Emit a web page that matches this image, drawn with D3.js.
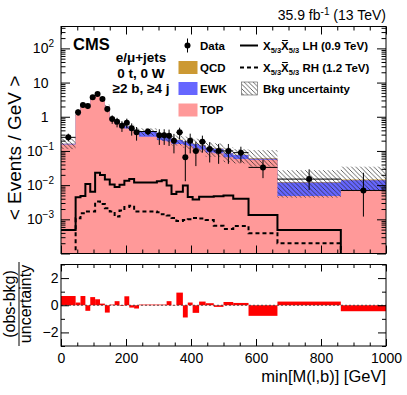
<!DOCTYPE html>
<html>
<head>
<meta charset="utf-8">
<script src="https://cdn.jsdelivr.net/npm/d3@7"></script>
<style>
body{margin:0;background:#fff;}
text{font-family:"Liberation Sans",Arial,Helvetica,sans-serif;}
</style>
</head>
<body>
<script>
// bin edges of min[M(l,b)] in GeV
const edges=[0,45,60,75,90,105,120,135,150,165,180,195,210,225,240,295,310,325,340,355,375,390,405,425,445,470,500,530,577,666,861,1000];
// observed data, events/GeV, with error bar ends
const dataVal=[0.25,1.35,2.2,2.05,3.7,4.6,3.3,1.68,0.86,0.71,0.55,0.67,0.46,0.35,0.37,0.29,0.29,0.28,0.2,0.35,0.065,0.2,0.1,0.186,0.114,0.1,0.1,0.089,0.033,0.015,0.007];
const dataLo=[0.19,1.05,1.82,1.68,3.2,4.05,2.83,1.35,0.62,0.49,0.36,0.46,0.28,0.2,0.29,0.15,0.15,0.14,0.085,0.22,0.013,0.085,0.036,0.09,0.046,0.042,0.042,0.045,0.016,0.0072,0.0012];
const dataHi=[0.32,1.65,2.58,2.42,4.2,5.15,3.77,2.0,1.1,0.93,0.74,0.88,0.64,0.5,0.45,0.43,0.43,0.42,0.315,0.48,0.2,0.32,0.186,0.28,0.18,0.16,0.16,0.133,0.054,0.029,0.023];
// backgrounds
const topBkg=[0.155,1.15,2.05,2.2,3.4,4.2,3.1,1.95,0.8,0.62,0.48,0.45,0.39,0.31,0.26,0.21,0.2,0.19,0.16,0.16,0.15,0.14,0.12,0.11,0.09,0.085,0.065,0.058,0.055,0.0048,0.0072];
const ewkBkg=[0.006,0.02,0.04,0.05,0.07,0.09,0.08,0.06,0.06,0.07,0.08,0.08,0.08,0.08,0.1,0.07,0.07,0.06,0.05,0.05,0.04,0.04,0.04,0.035,0.03,0.03,0.02,0.018,0.004,0.0072,0.0068];
const qcdBkg=[0.002,0.005,0.01,0.01,0.01,0.02,0.02,0.02,0.01,0.01,0.01,0.01,0.01,0.01,0.01,0.005,0.005,0.005,0.004,0.004,0.003,0.003,0.003,0.003,0.002,0.002,0.002,0.002,0.002,0.0003,0.0007];
const uncUp=[0.07,0.1,0.17,0.18,0.3,0.38,0.32,0.24,0.13,0.12,0.11,0.1,0.1,0.09,0.09,0.08,0.08,0.08,0.07,0.07,0.07,0.07,0.065,0.06,0.055,0.05,0.04,0.035,0.045,0.015,0.02];
const uncDn=[0.05,0.1,0.17,0.18,0.3,0.38,0.32,0.24,0.13,0.12,0.11,0.1,0.1,0.09,0.09,0.08,0.08,0.08,0.07,0.07,0.07,0.07,0.065,0.06,0.055,0.05,0.04,0.035,0.026,0.008,0.008];
// signals
const sigLH=[0.00049,0.0044,0.0048,0.0108,0.0064,0.023,0.0197,0.0145,0.0105,0.0088,0.0103,0.0135,0.015,0.012,0.012,0.013,0.014,0.0098,0.0055,0.0064,0.0098,0.0045,0.0038,0.0046,0.0046,0.0047,0.005,0.004,0.00134,0.00049,0];
const sigRH=[0,0.00107,0.0015,0.0017,0.0017,0.0033,0.0028,0.0021,0.0017,0.0012,0.0018,0.0023,0.0025,0.0017,0.0017,0.0016,0.0014,0.0013,0.0011,0.0009,0.00095,0.001,0.0011,0.00105,0.00095,0.00065,0.00052,0.00064,0.00039,0.0002,0];
// (obs-bkg)/uncertainty
const pull=[0.68,0.2,0.68,-0.41,0.6,0.44,0.12,-0.54,0.05,0.3,-0.05,0.66,-0.17,-0.24,0.05,0.05,0.05,0.3,0.02,0.93,-0.9,0.2,-0.56,0.27,0.15,-0.12,0.24,0.17,-0.78,0.27,-0.44];

const W=407,H=395;
const X0=61,X1=386,YT=26.5,YB=253.5,PT=264.5,PB=346;
const cTop="#ff9999",cEwk="#6666ff",cQcd="#cc9933";

const svg=d3.select("body").append("svg").attr("width",W).attr("height",H);
const defs=svg.append("defs");
const pat=defs.append("pattern").attr("id","hatch").attr("patternUnits","userSpaceOnUse")
  .attr("width",4.5).attr("height",4.5);
pat.append("path").attr("d","M-1,-1 L5.5,5.5 M-1,3.5 L1,5.5 M3.5,-1 L5.5,1").attr("stroke","#222").attr("stroke-width",0.7);
defs.append("clipPath").attr("id","clipMain").append("rect").attr("x",X0).attr("y",YT).attr("width",X1-X0).attr("height",YB-YT);

const x=d3.scaleLinear().domain([0,1000]).range([X0,X1]);
const y=d3.scaleLog().domain([1e-4,Math.pow(10,2.64)]).range([YB,YT]).clamp(true);
const yp=d3.scaleLinear().domain([-3,3]).range([PB,PT]);
const ys=v=>v>0?y(v):YB+3;

const n=dataVal.length;
const bins=d3.range(n).map(i=>({i,x0:edges[i],x1:edges[i+1],
  top:topBkg[i],ewk:topBkg[i]+ewkBkg[i],qcd:topBkg[i]+ewkBkg[i]+qcdBkg[i]}));
const stepPts=key=>bins.map(b=>({x:b.x0,v:b[key]})).concat([{x:edges[n],v:bins[n-1][key]}]);

const gMain=svg.append("g").attr("clip-path","url(#clipMain)");
const area=d3.area().curve(d3.curveStepAfter).x(d=>x(d.x)).y0(YB).y1(d=>ys(d.v));
gMain.append("path").attr("d",area(stepPts("qcd"))).attr("fill",cQcd);
gMain.append("path").attr("d",area(stepPts("ewk"))).attr("fill",cEwk);
gMain.append("path").attr("d",area(stepPts("top"))).attr("fill",cTop);

// uncertainty band
gMain.selectAll("rect.band").data(bins).enter().append("rect").attr("class","band")
  .attr("x",d=>x(d.x0)).attr("width",d=>x(d.x1)-x(d.x0))
  .attr("y",d=>ys(d.qcd+uncUp[d.i]))
  .attr("height",d=>ys(Math.max(d.qcd-uncDn[d.i],1e-6))-ys(d.qcd+uncUp[d.i]))
  .attr("fill","url(#hatch)");

// signals
const sigLine=vals=>d3.line().curve(d3.curveStepAfter).x(d=>x(d.x)).y(d=>ys(d.v))(
  vals.map((v,i)=>({x:edges[i],v})).concat([{x:edges[n],v:vals[n-1]}]));
gMain.append("path").attr("d",sigLine(sigLH)).attr("fill","none").attr("stroke","#000").attr("stroke-width",2);
gMain.append("path").attr("d",sigLine(sigRH)).attr("fill","none").attr("stroke","#000").attr("stroke-width",2).attr("stroke-dasharray","4,3");

// data
const gData=svg.append("g").attr("clip-path","url(#clipMain)");
bins.forEach(b=>{
  const cx=x((b.x0+b.x1)/2),cy=ys(dataVal[b.i]);
  gData.append("line").attr("x1",x(b.x0)).attr("x2",x(b.x1)).attr("y1",cy).attr("y2",cy).attr("stroke","#000");
  gData.append("line").attr("x1",cx).attr("x2",cx).attr("y1",ys(dataLo[b.i])).attr("y2",ys(dataHi[b.i])).attr("stroke","#000");
  gData.append("circle").attr("cx",cx).attr("cy",cy).attr("r",3).attr("fill","#000");
});

// main frame and axes
const noDom=g=>g.select(".domain").remove();
const decades=d3.range(-4,3).map(e=>Math.pow(10,e));
const minorsY=[];
d3.range(-4,3).forEach(e=>{for(let k=2;k<=9;k++){const v=k*Math.pow(10,e);if(v<Math.pow(10,2.64))minorsY.push(v);}});
const xMaj=d3.range(0,1001,200),xMin=d3.range(0,1001,50).filter(v=>v%200);
const tk=g=>g.selectAll("line").attr("stroke","#000");
svg.append("g").attr("transform",`translate(${X0},0)`).call(d3.axisLeft(y).tickValues(decades).tickSize(-9).tickFormat("")).call(noDom).call(tk);
svg.append("g").attr("transform",`translate(${X0},0)`).call(d3.axisLeft(y).tickValues(minorsY).tickSize(-4.5).tickFormat("")).call(noDom).call(tk);
svg.append("g").attr("transform",`translate(${X1},0)`).call(d3.axisRight(y).tickValues(decades).tickSize(-9).tickFormat("")).call(noDom).call(tk);
svg.append("g").attr("transform",`translate(${X1},0)`).call(d3.axisRight(y).tickValues(minorsY).tickSize(-4.5).tickFormat("")).call(noDom).call(tk);
svg.append("g").attr("transform",`translate(0,${YB})`).call(d3.axisBottom(x).tickValues(xMaj).tickSize(-8).tickFormat("")).call(noDom).call(tk);
svg.append("g").attr("transform",`translate(0,${YB})`).call(d3.axisBottom(x).tickValues(xMin).tickSize(-4).tickFormat("")).call(noDom).call(tk);
svg.append("g").attr("transform",`translate(0,${YT})`).call(d3.axisTop(x).tickValues(xMaj).tickSize(-8).tickFormat("")).call(noDom).call(tk);
svg.append("g").attr("transform",`translate(0,${YT})`).call(d3.axisTop(x).tickValues(xMin).tickSize(-4).tickFormat("")).call(noDom).call(tk);
svg.append("rect").attr("x",X0).attr("y",YT).attr("width",X1-X0).attr("height",YB-YT).attr("fill","none").attr("stroke","#000");

// y labels with exponents
const yLabels=[[2,"10","2"],[1,"10",""],[0,"1",""],[-1,"10","\u22121"],[-2,"10","\u22122"],[-3,"10","\u22123"]];
yLabels.forEach(([e,base,sup])=>{
  const t=svg.append("text").attr("x",sup?54:48.5).attr("y",y(Math.pow(10,e))+5).attr("text-anchor","end").attr("font-size",14);
  t.append("tspan").text(base);
  if(sup)t.append("tspan").attr("dy",-6).attr("font-size",10).text(sup);
});
svg.append("text").attr("transform",`translate(21,148) rotate(-90)`).attr("text-anchor","middle").attr("font-size",19).text("< Events / GeV >");

// texts
svg.append("text").attr("x",386).attr("y",20).attr("text-anchor","end").attr("font-size",14)
  .call(t=>{t.append("tspan").text("35.9 fb");t.append("tspan").attr("dy",-5).attr("font-size",10).text("-1");t.append("tspan").attr("dy",5).text(" (13 TeV)");});
svg.append("text").attr("x",73).attr("y",50).attr("font-size",16.5).attr("font-weight","bold").text("CMS");
["e/\u03bc+jets","0 t, 0 W","\u22652 b, \u22654 j"].forEach((s,i)=>
  svg.append("text").attr("x",141).attr("y",62+i*15.5).attr("text-anchor","middle").attr("font-size",13.5).attr("font-weight","bold").text(s));

// legend
const lg=svg.append("g").attr("font-size",11.5).attr("font-weight","bold");
const rowY=[45.5,67.5,88.5,110];
lg.append("line").attr("x1",187.5).attr("x2",187.5).attr("y1",rowY[0]-7).attr("y2",rowY[0]+7).attr("stroke","#000");
lg.append("circle").attr("cx",187.5).attr("cy",rowY[0]).attr("r",3);
[["Data",null],["QCD",cQcd],["EWK",cEwk],["TOP",cTop]].forEach(([lab,c],i)=>{
  if(c)lg.append("rect").attr("x",178.5).attr("y",rowY[i]-6.5).attr("width",19).attr("height",13).attr("fill",c);
  lg.append("text").attr("x",200).attr("y",rowY[i]+4).text(lab);
});
lg.append("line").attr("x1",240).attr("x2",258).attr("y1",rowY[0]).attr("y2",rowY[0]).attr("stroke","#000").attr("stroke-width",2);
lg.append("line").attr("x1",240).attr("x2",258).attr("y1",rowY[1]).attr("y2",rowY[1]).attr("stroke","#000").attr("stroke-width",2).attr("stroke-dasharray","4,3");
lg.append("rect").attr("x",241.5).attr("y",rowY[2]-6.5).attr("width",16).attr("height",13).attr("fill","url(#hatch)").attr("stroke","#555").attr("stroke-width",0.6);
[["LH (0.9 TeV)"],["RH (1.2 TeV)"]].forEach(([rest],i)=>{
  const t=lg.append("text").attr("x",263).attr("y",rowY[i]+4);
  t.append("tspan").text("X");
  t.append("tspan").attr("dy",3).attr("font-size",7.5).text("5/3");
  t.append("tspan").attr("dy",-3).text("X");
  t.append("tspan").attr("dy",3).attr("font-size",7.5).text("5/3");
  t.append("tspan").attr("dy",-3).text(" "+rest);
  const e=t.node().getExtentOfChar(4);
  lg.append("line").attr("x1",e.x+1).attr("x2",e.x+e.width-1).attr("y1",e.y+1).attr("y2",e.y+1).attr("stroke","#000").attr("stroke-width",1);
});
lg.append("text").attr("x",263).attr("y",rowY[2]+4).text("Bkg uncertainty");

// lower panel
const gP=svg.append("g");
gP.selectAll("rect.pull").data(bins).enter().append("rect").attr("class","pull")
  .attr("x",d=>x(d.x0)).attr("width",d=>x(d.x1)-x(d.x0))
  .attr("y",d=>yp(Math.max(pull[d.i],0))).attr("height",d=>Math.abs(yp(pull[d.i])-yp(0)))
  .attr("fill","#ff0000");
gP.append("line").attr("x1",X0).attr("x2",X1).attr("y1",yp(0)).attr("y2",yp(0)).attr("stroke","#333").attr("stroke-dasharray","2,2").attr("stroke-width",0.8);
const pMaj=[-2,0,2],pMin=[-3,-1,1,3];
svg.append("g").attr("transform",`translate(${X0},0)`).call(d3.axisLeft(yp).tickValues(pMaj).tickSize(-8)).call(noDom).call(tk)
  .call(g=>g.selectAll("text").attr("x",-2.5).attr("font-size",14).attr("font-family",null).text(d=>d<0?"\u2212"+(-d):d));
svg.append("g").attr("transform",`translate(${X0},0)`).call(d3.axisLeft(yp).tickValues(pMin).tickSize(-4).tickFormat("")).call(noDom).call(tk);
svg.append("g").attr("transform",`translate(${X1},0)`).call(d3.axisRight(yp).tickValues(pMaj).tickSize(-8).tickFormat("")).call(noDom).call(tk);
svg.append("g").attr("transform",`translate(${X1},0)`).call(d3.axisRight(yp).tickValues(pMin).tickSize(-4).tickFormat("")).call(noDom).call(tk);
svg.append("g").attr("transform",`translate(0,${PB})`).call(d3.axisBottom(x).tickValues(xMaj).tickSize(-7).tickFormat(d3.format("d"))).call(noDom).call(tk)
  .call(g=>g.selectAll("text").attr("y",7).attr("dy","0.71em").attr("font-size",14).attr("font-family",null));
svg.append("g").attr("transform",`translate(0,${PB})`).call(d3.axisBottom(x).tickValues(xMin).tickSize(-3.5).tickFormat("")).call(noDom).call(tk);
svg.append("g").attr("transform",`translate(0,${PT})`).call(d3.axisTop(x).tickValues(xMaj).tickSize(-7).tickFormat("")).call(noDom).call(tk);
svg.append("g").attr("transform",`translate(0,${PT})`).call(d3.axisTop(x).tickValues(xMin).tickSize(-3.5).tickFormat("")).call(noDom).call(tk);
svg.append("rect").attr("x",X0).attr("y",PT).attr("width",X1-X0).attr("height",PB-PT).attr("fill","none").attr("stroke","#000");

svg.append("text").attr("x",386).attr("y",382).attr("text-anchor","end").attr("font-size",16.5).text("min[M(l,b)] [GeV]");
const pl=svg.append("g").attr("transform","translate(0,304) rotate(-90)").attr("font-size",16).attr("text-anchor","middle");
pl.append("text").attr("x",0).attr("y",15).text("(obs-bkg)");
pl.append("line").attr("x1",-42).attr("x2",42).attr("y1",19).attr("y2",19).attr("stroke","#000");
pl.append("text").attr("x",0).attr("y",31).text("uncertainty");
</script>
</body>
</html>
